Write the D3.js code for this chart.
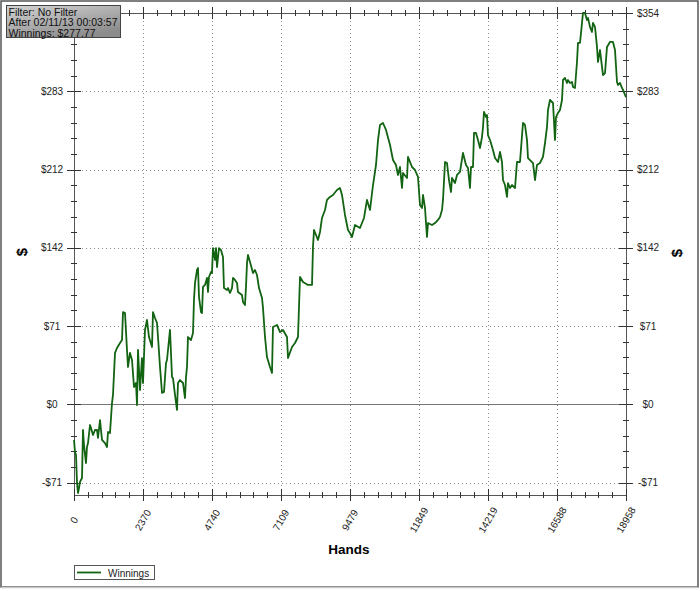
<!DOCTYPE html>
<html><head><meta charset="utf-8">
<script src="https://cdn.jsdelivr.net/npm/d3@7"></script>
<style>body{margin:0;background:#fff} svg{display:block}</style>
</head><body>
<svg id="c" width="700" height="591"></svg>
<script>
const hands = [0,34,69,103,137,172,206,275,309,343,412,446,481,550,584,653,721,790,824,893,962,1065,1133,1168,1236,1305,1339,1408,1477,1580,1649,1683,1752,1820,1855,1923,1992,2061,2129,2164,2198,2267,2335,2370,2438,2507,2576,2679,2713,2782,2851,2885,2954,3023,3091,3160,3194,3297,3366,3400,3469,3537,3572,3640,3744,3812,3847,3881,3915,4018,4087,4121,4156,4224,4259,4293,4362,4396,4430,4499,4568,4602,4636,4705,4739,4774,4843,4877,4911,4980,5049,5117,5134,5152,5255,5289,5358,5426,5461,5529,5598,5632,5770,5804,5873,5907,5942,5976,6045,6148,6216,6285,6354,6457,6491,6560,6628,6731,6800,6834,6972,7075,7178,7315,7350,7487,7590,7693,7762,7865,8036,8174,8208,8243,8380,8449,8517,8620,8689,8792,8895,9032,9135,9204,9307,9410,9479,9548,9651,9822,9960,10063,10166,10269,10372,10441,10509,10612,10715,10853,10956,11059,11127,11196,11265,11299,11437,11471,11608,11711,11814,11883,11952,11986,12055,12123,12158,12295,12398,12501,12570,12639,12673,12742,12810,12879,12948,12982,13085,13154,13257,13360,13463,13532,13600,13635,13703,13738,13806,13875,13944,14012,14047,14081,14150,14184,14218,14287,14390,14459,14562,14631,14699,14734,14802,14871,14905,14974,15043,15146,15214,15317,15420,15489,15558,15592,15661,15764,15833,15901,16004,16107,16176,16245,16279,16348,16451,16519,16554,16622,16691,16760,16794,16863,16932,16966,17035,17103,17138,17206,17275,17309,17378,17447,17481,17550,17618,17653,17721,17790,17824,17893,17962,17996,18065,18134,18168,18237,18305,18408,18511,18580,18649,18683,18752,18820,18855,18958];
const winnings = [-32.2,-43.1,-45.8,-71.1,-80.2,-75.7,-70.2,-66.6,-23.2,-36.8,-53.1,-38.6,-35.0,-18.7,-21.4,-27.7,-23.2,-23.2,-30.4,-14.2,-32.2,-35.0,-38.6,-25.0,-25.9,1.2,8.5,46.5,51.0,55.5,58.2,83.5,82.6,49.2,33.8,46.5,40.1,15.7,19.3,-0.6,49.2,13.0,41.9,19.3,67.3,76.3,60.9,51.9,83.5,78.1,73.6,60.9,33.8,10.3,11.2,37.4,40.1,67.3,24.7,23.8,8.5,-5.1,19.3,22.0,19.3,5.7,24.7,33.8,60.9,58.2,64.5,94.4,109.8,121.5,123.3,97.1,83.5,82.6,106.2,108.0,114.3,101.6,115.2,119.7,118.8,141.4,130.6,141.4,124.2,141.4,139.6,133.3,118.8,105.2,103.4,105.2,100.7,105.2,114.3,112.5,109.8,101.6,98.9,92.6,89.9,106.2,127.9,135.1,128.8,118.8,121.5,117.0,105.2,96.2,87.2,60.9,42.8,33.8,28.4,70.0,71.8,65.4,67.3,60.9,41.9,51.9,55.5,60.9,115.2,110.7,108.0,108.0,142.3,157.7,148.7,155.9,168.6,175.8,184.9,187.6,189.4,193.9,195.7,189.4,171.3,157.7,155.0,151.4,162.2,159.5,168.6,184.9,175.8,198.4,216.5,239.1,252.7,254.5,248.2,234.6,221.0,216.5,207.5,214.7,195.7,209.3,204.8,223.8,214.7,212.0,205.7,180.3,177.6,189.4,177.6,151.4,164.0,162.2,164.0,166.8,169.5,175.8,184.9,219.2,218.3,202.9,192.1,204.8,200.2,207.5,210.2,227.4,216.5,213.8,195.7,214.7,214.7,245.5,245.5,239.1,231.9,241.8,250.9,264.5,259.9,261.7,243.6,239.1,230.1,222.8,219.2,228.3,219.2,202.9,198.4,187.6,200.2,195.7,198.4,195.7,219.2,219.2,254.5,252.7,239.1,222.8,221.0,218.3,202.9,216.5,218.3,223.8,236.4,250.9,266.3,275.3,272.6,239.1,259.9,263.6,266.3,275.3,293.4,295.2,290.7,293.4,290.7,291.6,287.1,286.2,309.7,326.9,326.9,345.0,354.0,354.0,347.7,349.5,341.4,336.8,345.0,341.4,323.3,309.7,320.5,305.2,297.9,299.7,323.3,327.8,327.8,320.5,291.6,288.9,290.7,286.2,284.4,277.77];
const xTicks = [0,2370,4740,7109,9479,11849,14219,16588,18958];
const yTicks = [-70.8,0,70.8,141.6,212.4,283.2,354];
const infoLines = ["Filter: No Filter","After 02/11/13 00:03:57","Winnings: $277.77"];
const seriesName = "Winnings";
const xTitle = "Hands";
const yTitle = "$";

const W = 700, H = 591;
const L = 74, R = 626, T = 13, B = 495;
const svg = d3.select("#c");
const font = "'Liberation Sans', Arial, sans-serif";

const x = d3.scaleLinear().domain([0, 18958]).range([L, R]);
const y = d3.scaleLinear().domain([-82, 354]).range([B, T]);
const px = v => Math.round(v) + 0.5;

svg.append("rect").attr("width", W).attr("height", H).attr("fill", "#fff");

// grid
const grid = svg.append("g").attr("stroke", "#8a8a8a").attr("stroke-dasharray", "1,3").attr("stroke-width", 1);
grid.selectAll(".gx").data(xTicks.slice(1, -1)).join("line")
  .attr("x1", d => px(x(d))).attr("x2", d => px(x(d))).attr("y1", T).attr("y2", B);
grid.selectAll(".gy").data(yTicks.filter(d => d !== 0 && d !== 354)).join("line")
  .attr("y1", d => px(y(d))).attr("y2", d => px(y(d))).attr("x1", L).attr("x2", R);

// zero line
svg.append("line").attr("x1", L).attr("x2", R).attr("y1", px(y(0))).attr("y2", px(y(0)))
  .attr("stroke", "#777").attr("stroke-width", 1);

// axis frame
const frame = svg.append("g").attr("stroke", "#555").attr("stroke-width", 1).attr("fill", "none");
frame.append("rect").attr("x", px(L)).attr("y", px(T)).attr("width", Math.round(R - L)).attr("height", Math.round(B - T));

// ticks
const xMinor = d3.range(0, 40 + 1).map(i => i * 18958 / 40);
const yMinor = d3.range(0, 31).map(i => -70.8 + i * 14.16).filter(v => v <= 354.01);
const tk = svg.append("g").attr("stroke", "#333").attr("stroke-width", 1);
[B, T].forEach(yy => {
  tk.selectAll(null).data(xMinor).join("line")
    .attr("x1", d => px(x(d))).attr("x2", d => px(x(d)))
    .attr("y1", d => yy - (xTicks.some(t => Math.abs(t - d) < 2) ? 6 : 3))
    .attr("y2", d => yy + (xTicks.some(t => Math.abs(t - d) < 2) ? 6 : 3));
});
[L, R].forEach(xx => {
  tk.selectAll(null).data(yMinor).join("line")
    .attr("y1", d => px(y(d))).attr("y2", d => px(y(d)))
    .attr("x1", d => xx - (yTicks.some(t => Math.abs(t - d) < 0.5) ? 7 : 3))
    .attr("x2", d => xx + (yTicks.some(t => Math.abs(t - d) < 0.5) ? 7 : 3));
});

// y labels (left top label is hidden behind the info box in the reference)
const fmt = v => (v < 0 ? "-$" : "$") + Math.round(Math.abs(v));
[[52, yTicks.filter(v => v < 354)], [648, yTicks]].forEach(([cx, vals]) => {
  svg.append("g").selectAll("text").data(vals).join("text")
    .attr("x", cx).attr("y", d => y(d)).attr("dy", "0.35em")
    .attr("text-anchor", "middle").attr("font-family", font).attr("font-size", 10).attr("fill", "#222")
    .text(fmt);
});

// x labels
svg.append("g").selectAll("text").data(xTicks).join("text")
  .attr("x", d => x(d)).attr("y", 520).attr("dy", "0.35em")
  .attr("transform", d => `rotate(-60,${x(d)},520)`)
  .attr("text-anchor", "middle").attr("font-family", font).attr("font-size", 10).attr("fill", "#222")
  .text(d => d);

// titles
svg.append("text").attr("x", 349).attr("y", 554).attr("text-anchor", "middle")
  .attr("font-family", font).attr("font-weight", "bold").attr("font-size", 13.5).text(xTitle);
[[22, 252], [677, 253]].forEach(([cx, cy]) => {
  svg.append("text").attr("x", cx).attr("y", cy).attr("dy", "0.35em")
    .attr("transform", `rotate(-90,${cx},${cy})`).attr("text-anchor", "middle")
    .attr("font-family", font).attr("font-weight", "bold").attr("font-size", 15).text(yTitle);
});

// series line
svg.append("path").datum(hands.map((h, i) => [h, winnings[i]]))
  .attr("fill", "none").attr("stroke", "#126312").attr("stroke-width", 1.8).attr("stroke-linejoin", "round")
  .attr("d", d3.line().x(d => x(d[0])).y(d => y(d[1])));

// info box
const defs = svg.append("defs");
const gr = defs.append("linearGradient").attr("id", "ig").attr("x1", 0).attr("y1", 0).attr("x2", 0.6).attr("y2", 1);
gr.append("stop").attr("offset", 0).attr("stop-color", "#d4d4d4");
gr.append("stop").attr("offset", 1).attr("stop-color", "#8c8c8c");
svg.append("rect").attr("x", 6.5).attr("y", 5.5).attr("width", 114).attr("height", 32)
  .attr("fill", "url(#ig)").attr("stroke", "#444");
svg.append("g").selectAll("text").data(infoLines).join("text")
  .attr("x", 8.5).attr("y", (d, i) => 15.5 + i * 10.6)
  .attr("font-family", font).attr("font-size", 10.5).attr("fill", "#111").text(d => d);

// legend
svg.append("rect").attr("x", 74.5).attr("y", 565.5).attr("width", 80).attr("height", 14)
  .attr("fill", "#fff").attr("stroke", "#555");
svg.append("line").attr("x1", 77).attr("x2", 101).attr("y1", 572.5).attr("y2", 572.5)
  .attr("stroke", "#126312").attr("stroke-width", 1.8);
svg.append("text").attr("x", 108).attr("y", 576.5).attr("font-family", font).attr("font-size", 10)
  .attr("fill", "#222").text(seriesName);

// outer border
svg.append("rect").attr("x", 1).attr("y", 1).attr("width", 697).attr("height", 586)
  .attr("fill", "none").attr("stroke", "#555").attr("stroke-width", 1.5);
svg.append("line").attr("x1", 1).attr("x2", 698).attr("y1", 587.5).attr("y2", 587.5)
  .attr("stroke", "#c8c8c8").attr("stroke-width", 1.5);
</script>
</body></html>
